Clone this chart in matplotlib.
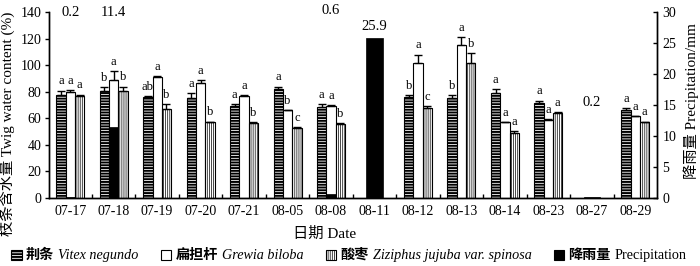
import numpy as np
import matplotlib
matplotlib.use('Agg')
import matplotlib.pyplot as plt
from matplotlib.patches import Rectangle
from matplotlib.offsetbox import HPacker, TextArea, DrawingArea, AnchoredOffsetbox

nan = np.nan
dates = ['07-17', '07-18', '07-19', '07-20', '07-21', '08-05', '08-08',
         '08-11', '08-12', '08-13', '08-14', '08-23', '08-27', '08-29']
vitex = [78, 81, 76.5, 75.5, 69.5, 82, 68.5, nan, 76, 75.5, 79, 71.5, nan, 66]
vitex_err = [3, 2.5, 0.5, 3.5, 1, 2, 2, nan, 1.5, 2, 3, 2, nan, 1.5]
grewia = [80, 89, 91.5, 87, 77, 66, 69.5, nan, 102, 115, 57, 58.5, nan, 61.5]
grewia_err = [1.5, 6.5, 0.3, 2, 0.3, 0, 0.3, nan, 6, 6, 0, 1, nan, 0.3]
zizi = [77, 80.5, 67, 57, 56.5, 53, 56, nan, 68, 102, 49, 64, nan, 57]
zizi_err = [1, 3.5, 3.5, 0.5, 0.5, 0.5, 0.5, nan, 1, 7, 1.5, 0.5, nan, 0.5]
vitex_let = ['a', 'b', 'ab', 'a', 'a', 'a', 'a', '', 'b', 'b', 'a', 'a', '', 'a']
grewia_let = ['a', 'a', 'a', 'a', 'a', 'b', 'a', '', 'a', 'a', 'a', 'a', '', 'a']
zizi_let = ['a', 'b', 'b', 'b', 'b', 'c', 'b', '', 'c', 'b', 'a', 'a', '', 'a']
precip = [0.2, 11.4, 0, 0, 0, 0, 0.6, 25.9, 0, 0, 0, 0, 0.2, 0]

legend_cjk = ['荆条', '扁担杆', '酸枣', '降雨量']
legend_latin = ['Vitex negundo', 'Grewia biloba', 'Ziziphus jujuba var. spinosa',
                'Precipitation']

# layout: y (left-axis units) of precipitation labels
precip_label_y = {0: 139.5, 1: 139.5, 6: 141, 7: 129.5, 12: 72}

SERIF = ['Liberation Serif', 'Noto Sans CJK SC']
plt.rcParams['font.family'] = SERIF
plt.rcParams['hatch.linewidth'] = 1.4

fig = plt.figure(figsize=(7.0, 2.66), dpi=100)
ax = fig.add_axes([0.0693, 0.2556, 0.8693, 0.6982])
ax2 = ax.twinx()

x = np.arange(len(dates))
w = 0.214

def set_hlw(p, hlw):
    if hasattr(p, 'set_hatch_linewidth'):
        p.set_hatch_linewidth(hlw)

def draw(vals, errs, lets, off, hatch, hlw):
    vals = np.array(vals, float)
    errs = np.array(errs, float)
    bars = ax.bar(x + off, vals, w, facecolor='white', edgecolor='black',
                  linewidth=0.8, hatch=hatch, zorder=2)
    for b in bars:
        set_hlw(b, hlw)
    m = ~np.isnan(vals)
    ax.errorbar(x[m] + off, vals[m], yerr=[np.zeros(m.sum()), errs[m]],
                fmt='none', ecolor='black', elinewidth=1, capsize=3.2,
                capthick=1, zorder=3)
    for i in range(len(x)):
        if m[i]:
            ax.text(x[i] + off, vals[i] + errs[i] + 2.5, lets[i], ha='center',
                    va='bottom', fontsize=9)

draw(vitex, vitex_err, vitex_let, -w, '------', 1.4)
draw(grewia, grewia_err, grewia_let, 0, None, 1.0)
draw(zizi, zizi_err, zizi_let, w, '||||||||', 0.5)

has = ~np.isnan(np.array(vitex, float))
pw = np.where(has, w, 0.37)
ax2.bar(x, precip, pw, color='black', edgecolor='black', linewidth=0.5, zorder=2)
for i, y in precip_label_y.items():
    ax.text(x[i], y, f'{precip[i]:.1f}', ha='center', va='center', fontsize=10.5)

ax.set_xlim(-0.5, len(dates) - 0.5)
ax.set_ylim(0, 140)
ax2.set_ylim(0, 30)
ax.set_yticks(np.arange(0, 141, 20))
ax2.set_yticks(np.arange(0, 31, 5))
ax.set_xticks(x)
ax.set_xticklabels(dates, fontsize=10)
ax.set_xticks(np.arange(0.5, len(dates) - 1, 1), minor=True)
ax.tick_params(axis='x', which='major', length=0, pad=5)
ax.tick_params(axis='x', which='minor', direction='in', length=3, width=1)
ax.tick_params(axis='y', direction='out', length=3, width=1, labelsize=10, pad=2)
ax2.tick_params(axis='y', direction='in', length=3, width=1, labelsize=10, pad=4)
for a in (ax, ax2):
    a.spines['top'].set_visible(False)
    for s in ('left', 'right', 'bottom'):
        a.spines[s].set_linewidth(1.0)

ax.set_ylabel('枝条含水量 Twig water content (%)', fontsize=11, labelpad=3)
ax.yaxis.set_label_coords(-0.055, 0.40)
ax2.set_ylabel('降雨量 Precipitation/mm', fontsize=11, labelpad=4)
ax2.yaxis.set_label_coords(1.043, 0.52)
ax.set_xlabel('日期 Date', fontsize=11, labelpad=4)
ax.xaxis.set_label_coords(0.453, -0.155)

# legend built from boxes so that CJK and italic Latin can be mixed
styles = [('white', '------', 1.4), ('white', None, 1.0),
          ('white', '||||||||', 0.5), ('black', None, 1.0)]
items = []
for (fc, hatch, hlw), cjk, lat, k in zip(styles, legend_cjk, legend_latin, range(4)):
    da = DrawingArea(7.5, 7.5, 0, 0)
    r = Rectangle((0, 0), 7.5, 7.5, facecolor=fc, edgecolor='black',
                  linewidth=0.8, hatch=hatch)
    set_hlw(r, hlw)
    da.add_artist(r)
    t1 = TextArea(cjk, textprops=dict(fontsize=10.2, family=['Noto Sans CJK SC'],
                                      fontweight='bold'))
    t2 = TextArea(lat, textprops=dict(fontsize=10.2, family='Liberation Serif',
                                      style='normal' if k == 3 else 'italic'))
    items.append(HPacker(children=[da, t1, t2], sep=3, align='center', pad=0))
box = HPacker(children=items, sep=16, align='center', pad=0)
anch = AnchoredOffsetbox(loc='lower center', child=box, pad=0, borderpad=0,
                         bbox_to_anchor=(0.4986, 0.015),
                         bbox_transform=fig.transFigure, frameon=False)
fig.add_artist(anch)

fig.savefig('out.png', dpi=100)
